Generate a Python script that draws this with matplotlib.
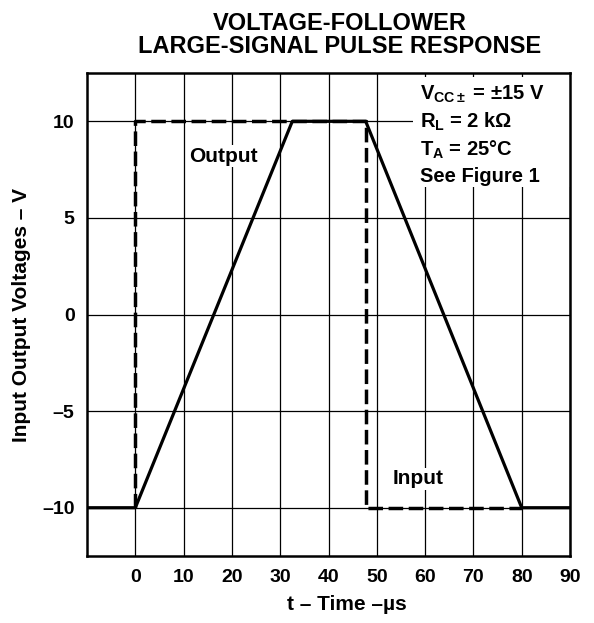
import matplotlib
matplotlib.use("Agg")
import matplotlib.pyplot as plt
from matplotlib.patches import Rectangle

# values
t_output = [-10, 0, 32.5, 47.7, 80, 90]
v_output = [-10, -10, 10, 10, -10, -10]
t_input = [0, 0, 47.7, 47.7, 80]
v_input = [-10, 10, 10, -10, -10]
x_ticks = [0, 10, 20, 30, 40, 50, 60, 70, 80, 90]
y_ticks = [-10, -5, 0, 5, 10]
y_tick_labels = ["\u201310", "\u20135", "0", "5", "10"]

plt.rcParams["font.family"] = ["Liberation Sans", "DejaVu Sans"]
plt.rcParams["font.weight"] = "bold"
plt.rcParams["mathtext.fontset"] = "custom"
plt.rcParams["mathtext.rm"] = "Liberation Sans:bold"
plt.rcParams["mathtext.it"] = "Liberation Sans:bold"
plt.rcParams["mathtext.bf"] = "Liberation Sans:bold"

fig = plt.figure(figsize=(5.94, 6.23), dpi=100)
ax = fig.add_axes([0.1465, 0.1075, 0.8131, 0.7753])

ax.set_xlim(-10, 90)
ax.set_ylim(-12.5, 12.5)
ax.set_xticks(x_ticks)
ax.set_yticks(y_ticks)
ax.set_yticklabels(y_tick_labels)
ax.tick_params(length=0, labelsize=14, pad=9)
ax.grid(True, color="black", linewidth=0.9)
ax.set_axisbelow(True)
for s in ax.spines.values():
    s.set_linewidth(1.8)

# white area behind the conditions text
ax.add_patch(Rectangle((0.675, 0.764), 0.33, 0.228, transform=ax.transAxes,
                       facecolor="white", edgecolor="none", zorder=1.5))

ax.plot(t_input, v_input, color="black", linewidth=2.5, dashes=(4.2, 1.6),
        zorder=3)
ax.plot(t_output, v_output, color="black", linewidth=2.3, zorder=4)

box = dict(facecolor="white", edgecolor="none", pad=1)
ax.text(18.2, 8.2, "Output", ha="center", va="center", fontsize=15,
        fontweight="bold", bbox=box, zorder=2)
ax.text(58.6, -8.5, "Input", ha="center", va="center", fontsize=15,
        fontweight="bold", bbox=box, zorder=2)

cond = [r"$\mathregular{V_{CC\pm}}$ = $\pm$15 V",
        r"$\mathregular{R_L}$ = 2 k$\Omega$",
        r"$\mathregular{T_A}$ = 25$\degree$C",
        "See Figure 1"]
cond_y = [0.944, 0.886, 0.828, 0.775]
for s, yy in zip(cond, cond_y):
    ax.text(0.689, yy, s, transform=ax.transAxes, ha="left", va="baseline",
            fontsize=14.5, fontweight="bold", zorder=5)

fig.text(340 / 594, 1 - 23.5 / 623, "VOLTAGE-FOLLOWER", ha="center",
         va="center", fontsize=17, fontweight="bold")
fig.text(340 / 594, 1 - 46.5 / 623, "LARGE-SIGNAL PULSE RESPONSE",
         ha="center", va="center", fontsize=17, fontweight="bold")
fig.text(22 / 594, 1 - 315 / 623, "Input Output Voltages \u2013 V",
         rotation=90, ha="center", va="center", fontsize=15, fontweight="bold")
fig.text(347 / 594, 18 / 623, "t \u2013 Time \u2013\u00b5s", ha="center",
         va="center", fontsize=15, fontweight="bold")

fig.savefig("out.png", dpi=100)
